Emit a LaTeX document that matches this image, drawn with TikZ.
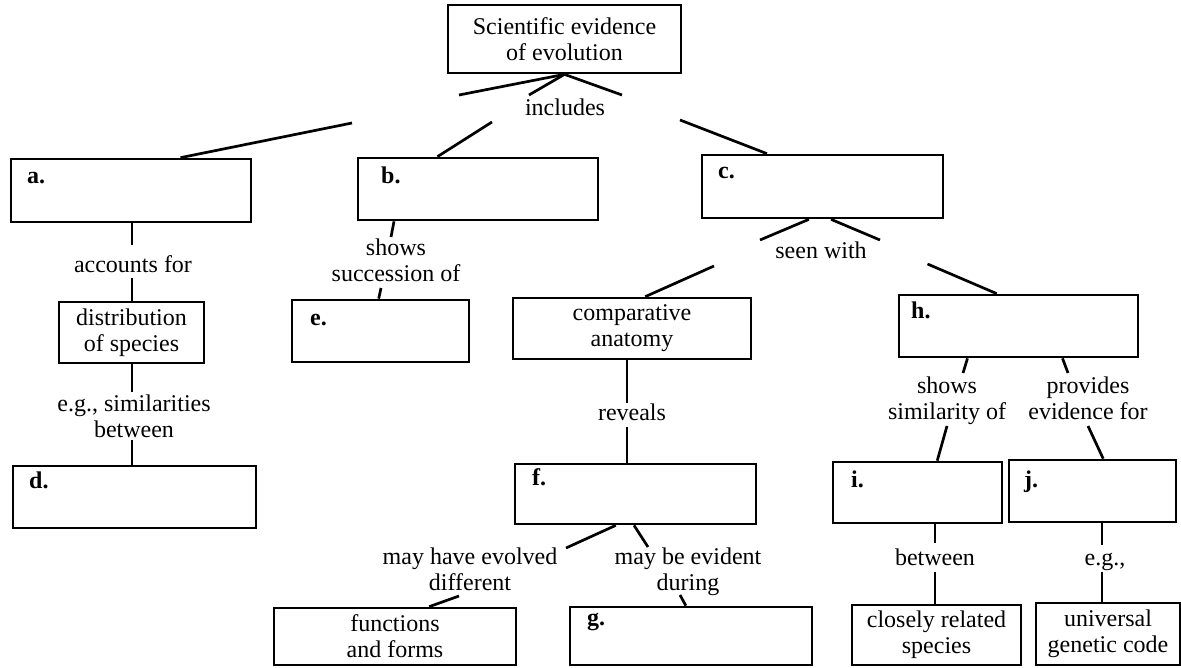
\documentclass[tikz,border=0pt]{standalone}
\usepackage{fontspec}
\setmainfont{Liberation Serif}
\usetikzlibrary{calc}
\begin{document}
\begin{tikzpicture}[x=1pt,y=-1pt,
  box/.style={draw, line width=2.7pt, inner sep=0pt, align=center,
    font=\fontsize{24}{26}\selectfont},
  lbl/.style={font=\fontsize{24}{25.5}\selectfont, inner sep=0pt, align=center, anchor=base},
  tag/.style={font=\fontsize{24}{26}\selectfont\bfseries, inner sep=0pt, anchor=base west},
  conn/.style={line width=2.7pt}]
\useasboundingbox (0,0) rectangle (1181,667);
\fill[white] (0,0) rectangle (1181,667);

% boxes
\node[box, minimum width=233pt, minimum height=68pt] (top) at (564.5,39) {Scientific evidence\\of evolution};
\node[box, minimum width=240pt, minimum height=63pt] (a) at (131,190.5) {};
\node[box, minimum width=240pt, minimum height=62pt] (b) at (478,189) {};
\node[box, minimum width=241pt, minimum height=63pt] (c) at (822.5,186.5) {};
\node[box, minimum width=145pt, minimum height=61pt] (dist) at (131.5,332.5) {distribution\\of species};
\node[box, minimum width=243pt, minimum height=62pt] (d) at (134.5,497) {};
\node[box, minimum width=177pt, minimum height=62pt] (e) at (380.5,331) {};
\node[box, minimum width=238pt, minimum height=61pt] (comp) at (632,328.5) {comparative\\anatomy};
\node[box, minimum width=239pt, minimum height=62pt] (h) at (1018.5,326) {};
\node[box, minimum width=241pt, minimum height=60pt] (f) at (635.5,494) {};
\node[box, minimum width=169pt, minimum height=61pt] (i) at (917.5,492.5) {};
\node[box, minimum width=167pt, minimum height=62pt] (j) at (1092.5,491) {};
\node[box, minimum width=242pt, minimum height=57pt] (func) at (395,636.5) {functions\\and forms};
\node[box, minimum width=242pt, minimum height=58pt] (g) at (691,636) {};
\node[box, minimum width=169pt, minimum height=60pt] (close) at (936.5,635) {closely related\\species};
\node[box, minimum width=144pt, minimum height=62pt] (univ) at (1108,634) {universal\\genetic code};

% letter tags
\node[tag] (ta) at (27,183) {a.};
\node[tag] (tb) at (381,183) {b.};
\node[tag] (tc) at (718,178) {c.};
\node[tag] (td) at (29,488) {d.};
\node[tag] (te) at (310,325) {e.};
\node[tag] (tf) at (532,485) {f.};
\node[tag] (tg) at (587,625) {g.};
\node[tag] (th) at (911,318) {h.};
\node[tag] (ti) at (851,487) {i.};
\node[tag] (tj) at (1024,487) {j.};

% linking phrases (base = baseline of last line)
\node[lbl] (incl) at (565,115) {includes};
\node[lbl] (acc) at (133,272) {accounts for};
\node[lbl] (eg1) at (134,437) {e.g., similarities\\between};
\node[lbl] (succ) at (396,281) {shows\\succession of};
\node[lbl] (seen) at (821,258) {seen with};
\node[lbl] (rev) at (632,420) {reveals};
\node[lbl] (evol) at (470,590) {may have evolved\\different};
\node[lbl] (evid) at (688,590) {may be evident\\during};
\node[lbl] (sim) at (947,419) {shows\\similarity of};
\node[lbl] (prov) at (1088,419) {provides\\evidence for};
\node[lbl] (betw) at (935,565) {between};
\node[lbl] (eg2) at (1105,565) {e.g.,};

% free ends of connectors
\coordinate (ia1) at (459,95);
\coordinate (ib1) at (529,95);
\coordinate (ic1) at (622,95);
\coordinate (ia2) at (352,123);
\coordinate (ib2) at (492,122);
\coordinate (ic2) at (680,120);
\coordinate (ca1) at (132,245);
\coordinate (ca2) at (132,278);
\coordinate (cd1) at (132,392);
\coordinate (cd2) at (132,440);
\coordinate (cb1) at (391,237);
\coordinate (cb2) at (381,288);
\coordinate (cc1) at (760,240);
\coordinate (cc2) at (880,240);
\coordinate (cc3) at (714,266);
\coordinate (cc4) at (927.5,264);
\coordinate (cr1) at (627,403);
\coordinate (cr2) at (627,427);
\coordinate (cf1) at (566,548);
\coordinate (cf2) at (648,547);
\coordinate (cf3) at (459,596);
\coordinate (cf4) at (680,595);
\coordinate (ch1) at (963,373);
\coordinate (ch2) at (1068,373);
\coordinate (ch3) at (947,426);
\coordinate (ch4) at (1088,426);
\coordinate (ci1) at (935,543);
\coordinate (ci2) at (935,572);
\coordinate (cj1) at (1102,545);
\coordinate (cj2) at (1102,572);

% connectors
\draw[conn] (top.south) -- (ia1);
\draw[conn] (top.south) -- (ib1);
\draw[conn] (top.south) -- (ic1);
\draw[conn] (ia2) -- ($(a.north west)!0.704!(a.north east)$);
\draw[conn] (ib2) -- ($(b.north west)!0.333!(b.north east)$);
\draw[conn] (ic2) -- ($(c.north west)!0.272!(c.north east)$);

\draw[conn] (a.south -| ca1) -- (ca1);
\draw[conn] (ca2) -- (dist.north -| ca2);
\draw[conn] (dist.south -| cd1) -- (cd1);
\draw[conn] (cd2) -- (d.north -| cd2);

\draw[conn] ($(b.south west)!0.154!(b.south east)$) -- (cb1);
\draw[conn] (cb2) -- ($(e.north west)!0.49!(e.north east)$);

\draw[conn] ($(c.south west)!0.444!(c.south east)$) -- (cc1);
\draw[conn] ($(c.south west)!0.535!(c.south east)$) -- (cc2);
\draw[conn] (cc3) -- ($(comp.north west)!0.555!(comp.north east)$);
\draw[conn] (cc4) -- ($(h.north west)!0.41!(h.north east)$);

\draw[conn] (comp.south -| cr1) -- (cr1);
\draw[conn] (cr2) -- (f.north -| cr2);

\draw[conn] ($(f.south west)!0.419!(f.south east)$) -- (cf1);
\draw[conn] ($(f.south west)!0.494!(f.south east)$) -- (cf2);
\draw[conn] (cf3) -- ($(func.north west)!0.64!(func.north east)$);
\draw[conn] (cf4) -- ($(g.north west)!0.479!(g.north east)$);

\draw[conn] ($(h.south west)!0.289!(h.south east)$) -- (ch1);
\draw[conn] ($(h.south west)!0.682!(h.south east)$) -- (ch2);
\draw[conn] (ch3) -- ($(i.north west)!0.615!(i.north east)$);
\draw[conn] (ch4) -- ($(j.north west)!0.563!(j.north east)$);

\draw[conn] (i.south -| ci1) -- (ci1);
\draw[conn] (ci2) -- (close.north -| ci2);
\draw[conn] (j.south -| cj1) -- (cj1);
\draw[conn] (cj2) -- (univ.north -| cj2);
\end{tikzpicture}
\end{document}
